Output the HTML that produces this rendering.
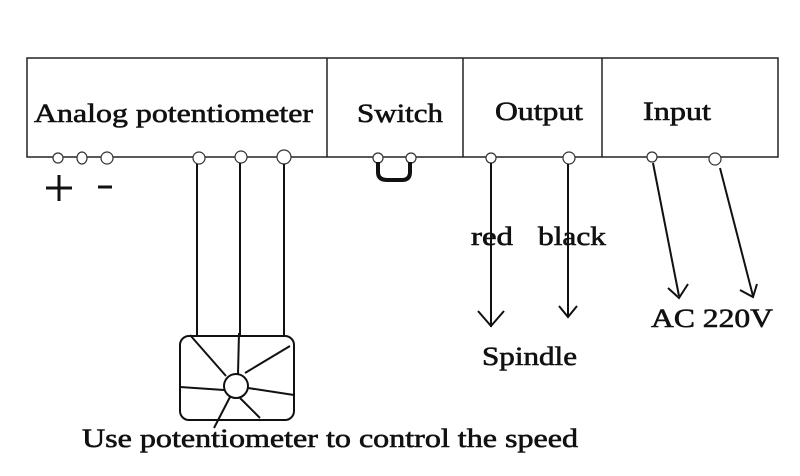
<!DOCTYPE html>
<html><head><style>html,body{margin:0;padding:0;background:#fff;}svg{display:block}</style></head>
<body>
<svg width="800" height="476" viewBox="0 0 800 476" xmlns="http://www.w3.org/2000/svg" font-family="Liberation Serif, serif" fill="#111">
<rect width="800" height="476" fill="#fff"/>
<g stroke="#222" stroke-width="1.5" fill="none">
<rect x="27" y="58" width="751" height="99"/>
<line x1="327" y1="58" x2="327" y2="157"/>
<line x1="463" y1="58" x2="463" y2="157"/>
<line x1="602" y1="58" x2="602" y2="157"/>
</g>
<g font-size="26" stroke="#111" stroke-width="0.6">
<text x="34" y="122" textLength="279" lengthAdjust="spacingAndGlyphs">Analog potentiometer</text>
<text x="357" y="122" textLength="86" lengthAdjust="spacingAndGlyphs">Switch</text>
<text x="495" y="120" textLength="88" lengthAdjust="spacingAndGlyphs">Output</text>
<text x="643" y="120" textLength="68" lengthAdjust="spacingAndGlyphs">Input</text>
</g>
<g stroke="#333" stroke-width="1.2" fill="#fff">
<circle cx="58" cy="158" r="5"/>
<ellipse cx="82" cy="158" rx="5" ry="6"/>
<circle cx="107" cy="158" r="6"/>
<circle cx="199" cy="158" r="6"/>
<circle cx="241" cy="157" r="6"/>
<circle cx="284" cy="157" r="7"/>
<circle cx="378" cy="158" r="5"/>
<circle cx="411" cy="158" r="5"/>
<circle cx="491" cy="158" r="5"/>
<circle cx="569" cy="158" r="6"/>
<circle cx="652" cy="157" r="5"/>
<circle cx="715" cy="159" r="6"/>
</g>
<path d="M378 162 L378 172 Q378 180 387 180 L402 180 Q410 180 410 172 L410 162" stroke="#111" stroke-width="4" fill="none"/>
<g stroke="#111" stroke-width="3"><line x1="46" y1="188" x2="72" y2="188"/><line x1="59" y1="175" x2="59" y2="201"/><line x1="98" y1="187" x2="112" y2="187"/></g>
<g stroke="#111" stroke-width="2" fill="none">
<line x1="197" y1="164" x2="197" y2="336"/>
<line x1="240" y1="163" x2="240" y2="336"/>
<line x1="284" y1="164" x2="284" y2="336"/>
<rect x="180" y="336" width="114" height="84" rx="9"/>
<circle cx="236" cy="386" r="12"/>
<line x1="190" y1="335" x2="226" y2="376"/>
<line x1="239" y1="333" x2="238" y2="374"/>
<line x1="290" y1="346" x2="245" y2="373"/>
<line x1="180" y1="387" x2="224" y2="390"/>
<line x1="248" y1="388" x2="294" y2="395"/>
<line x1="230" y1="397" x2="214" y2="428"/>
<line x1="240" y1="398" x2="260" y2="418"/>
<line x1="491" y1="163" x2="491" y2="327"/>
<polyline points="478,311 491,326 504,311"/>
<line x1="568" y1="164" x2="568" y2="317"/>
<polyline points="559,306 568,317 577,306"/>
<line x1="653" y1="163" x2="679" y2="296"/>
<polyline points="668,288 679,298 688,284"/>
<line x1="720" y1="168" x2="753" y2="296"/>
<polyline points="740,290 753,297 757,284"/>
</g>
<g font-size="26" stroke="#111" stroke-width="0.6">
<text x="471" y="245" textLength="42" lengthAdjust="spacingAndGlyphs">red</text>
<text x="538" y="245" textLength="68" lengthAdjust="spacingAndGlyphs">black</text>
<text x="651" y="327" textLength="122" lengthAdjust="spacingAndGlyphs">AC 220V</text>
<text x="482" y="365" textLength="95" lengthAdjust="spacingAndGlyphs">Spindle</text>
<text x="82" y="447" textLength="496" lengthAdjust="spacingAndGlyphs">Use potentiometer to control the speed</text>
</g>
</svg>
</body></html>
